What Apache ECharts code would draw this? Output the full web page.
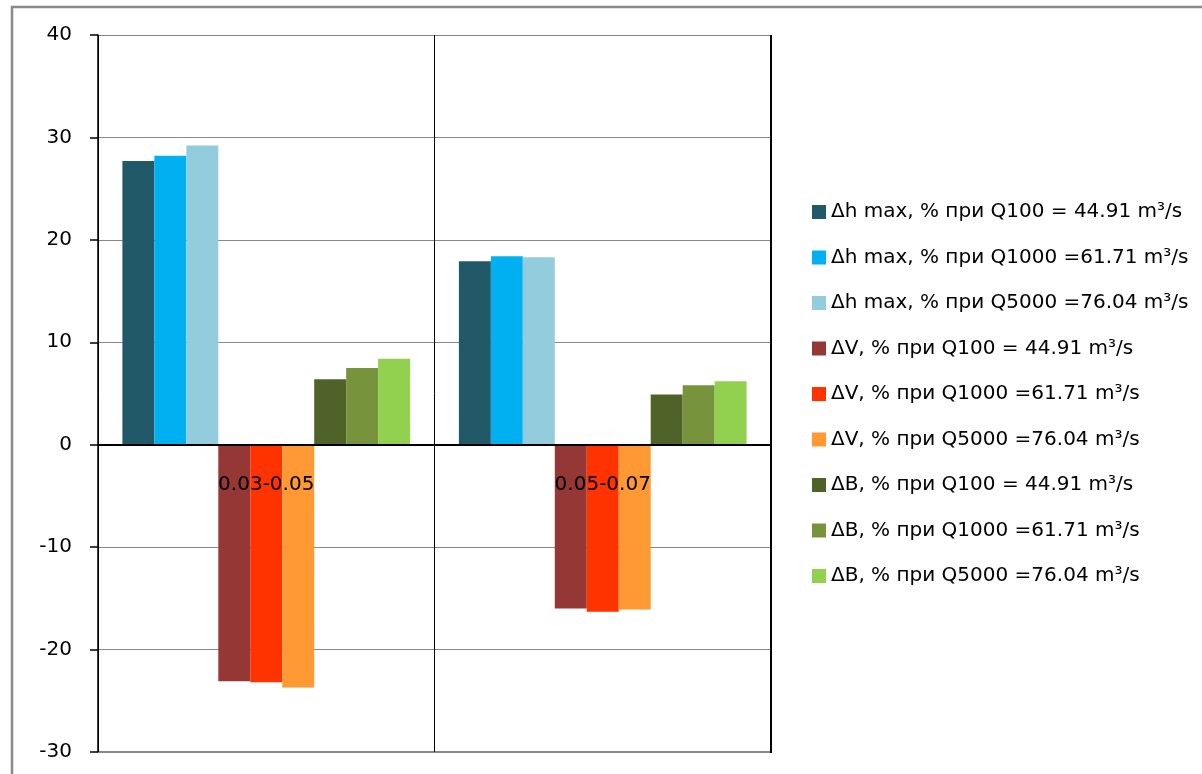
<!DOCTYPE html>
<html>
<head>
<meta charset="utf-8">
<script src="https://cdn.jsdelivr.net/npm/echarts@6/dist/echarts.min.js"></script>
<style>
  html, body { margin: 0; padding: 0; background: #fff; }
  #chart { width: 1202px; height: 774px; }
</style>
</head>
<body>
<div id="chart"></div>
<script>
// Discharge ranges on the category axis
const categories = ['0.03-0.05', '0.05-0.07'];

// Series names (legend order)
const seriesNames = [
  'Δh max, % при Q100 = 44.91 m³/s',
  'Δh max, % при Q1000 =61.71 m³/s',
  'Δh max, % при Q5000 =76.04 m³/s',
  'ΔV, % при Q100 = 44.91 m³/s',
  'ΔV, % при Q1000 =61.71 m³/s',
  'ΔV, % при Q5000 =76.04 m³/s',
  'ΔB, % при Q100 = 44.91 m³/s',
  'ΔB, % при Q1000 =61.71 m³/s',
  'ΔB, % при Q5000 =76.04 m³/s'
];

// Values per series, one per category
const dhQ100  = [27.7, 17.9];
const dhQ1000 = [28.2, 18.4];
const dhQ5000 = [29.2, 18.3];
const dvQ100  = [-23.1, -16.0];
const dvQ1000 = [-23.2, -16.3];
const dvQ5000 = [-23.7, -16.1];
const dbQ100  = [6.4, 4.9];
const dbQ1000 = [7.5, 5.8];
const dbQ5000 = [8.4, 6.2];

const seriesValues = [dhQ100, dhQ1000, dhQ5000, dvQ100, dvQ1000, dvQ5000, dbQ100, dbQ1000, dbQ5000];

const colors = ['#215968', '#00B0F0', '#93CDDD', '#953735', '#FF3300', '#FF9933', '#4F6228', '#77933C', '#92D050'];

// Y axis range
const yMin = -30, yMax = 40, yStep = 10;

const FONT = 'DejaVu Sans';

// Plot area
const W = 1202, H = 774;
const gridLeft = 98, gridRight = 431, gridTop = 35, gridBottom = 22;
const plotHeight = H - gridTop - gridBottom;
const plotRight = W - gridRight;
const plotBottom = H - gridBottom;
// Shift the category axis up from the bottom edge to the zero level
const zeroOffset = -plotHeight * (0 - yMin) / (yMax - yMin);

const chart = echarts.init(document.getElementById('chart'), null, { renderer: 'canvas' });

chart.setOption({
  animation: false,
  color: colors,
  textStyle: { fontFamily: FONT },
  grid: {
    left: gridLeft, right: gridRight, top: gridTop, bottom: gridBottom,
    containLabel: false,
    outerBoundsMode: 'none'
  },
  graphic: [
    // outer chart frame
    {
      type: 'rect',
      shape: { x: 12, y: 7, width: 1300, height: 900 },
      style: { fill: 'none', stroke: '#8a8a8a', lineWidth: 2.5 },
      z: 0
    },
    // heavier plot-area edges (bottom and right)
    {
      type: 'line',
      shape: { x1: gridLeft, y1: plotBottom, x2: plotRight, y2: plotBottom },
      style: { stroke: '#878787', lineWidth: 2.2 },
      z: 1
    },
    {
      type: 'line',
      shape: { x1: plotRight, y1: gridTop, x2: plotRight, y2: plotBottom + 1 },
      style: { stroke: '#000', lineWidth: 2 },
      z: 1
    }
  ],
  legend: {
    orient: 'vertical',
    left: 812,
    top: 201,
    padding: 0,
    icon: 'rect',
    itemWidth: 14,
    itemHeight: 14,
    itemGap: 23.5,
    textStyle: { fontFamily: FONT, fontSize: 20, color: '#000', lineHeight: 22 },
    data: seriesNames
  },
  xAxis: [
    {
      type: 'category',
      data: categories,
      z: 5,
      position: 'bottom',
      offset: zeroOffset,
      axisLine: { onZero: false, lineStyle: { color: '#000', width: 2 } },
      axisTick: { show: false },
      axisLabel: { fontFamily: FONT, fontSize: 20, color: '#000', margin: 30 },
      splitLine: { show: true, lineStyle: { color: '#000', width: 1 } }
    }
  ],
  yAxis: {
    type: 'value',
    min: yMin,
    max: yMax,
    interval: yStep,
    axisLine: { show: true, lineStyle: { color: '#000', width: 1.5 } },
    axisTick: { show: true, inside: false, length: 8, lineStyle: { color: '#000', width: 1.5 } },
    axisLabel: { fontFamily: FONT, fontSize: 20, color: '#000', margin: 26 },
    splitLine: { show: true, lineStyle: { color: '#878787', width: 1.2 } }
  },
  series: seriesNames.map((name, i) => ({
    name: name,
    type: 'bar',
    data: seriesValues[i],
    barGap: 0,
    barCategoryGap: '14.5%',
    itemStyle: { color: colors[i] }
  }))
});
</script>
</body>
</html>
